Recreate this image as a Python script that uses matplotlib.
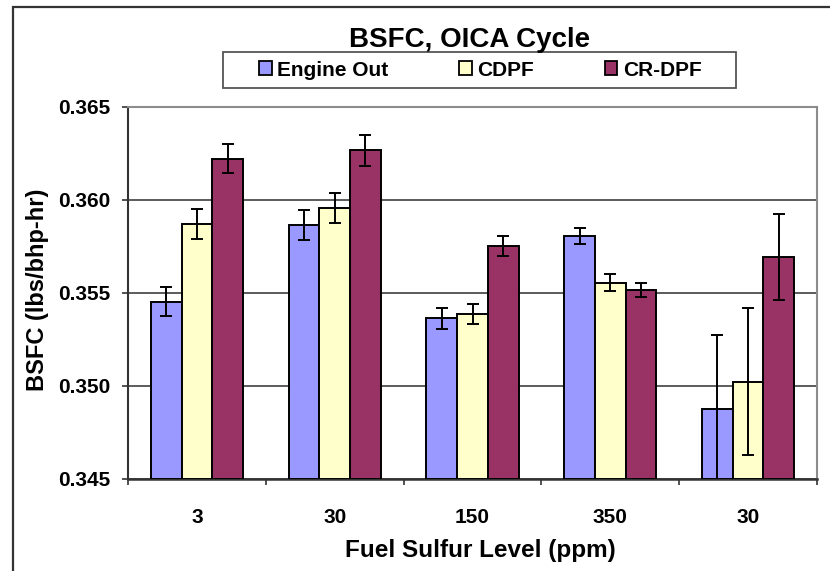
import matplotlib
matplotlib.use("Agg")
import matplotlib.pyplot as plt
from matplotlib.patches import Rectangle, Patch
import numpy as np

plt.rcParams['font.family'] = ['Liberation Sans', 'DejaVu Sans']
plt.rcParams['font.weight'] = 'bold'

categories = ["3", "30", "150", "350", "30"]
series_names = ["Engine Out", "CDPF", "CR-DPF"]
engine_out = [0.35453, 0.35867, 0.35363, 0.35805, 0.34879]
engine_out_err = [0.00078, 0.00080, 0.00054, 0.00043, 0.00397]
cdpf = [0.35869, 0.35958, 0.35385, 0.35556, 0.35022]
cdpf_err = [0.00080, 0.00080, 0.00054, 0.00045, 0.00395]
crdpf = [0.36223, 0.36268, 0.35753, 0.35517, 0.35694]
crdpf_err = [0.00080, 0.00083, 0.00052, 0.00036, 0.00232]
yticks = [0.345, 0.350, 0.355, 0.360, 0.365]

colors = ["#9999FF", "#FFFFCC", "#993366"]

W, H = 830, 571
fig = plt.figure(figsize=(W / 100, H / 100), dpi=100)
ax = fig.add_axes([128 / W, 1 - 479 / H, (817 - 128) / W, (479 - 107) / H])

x = np.arange(len(categories))
bw = 0.2226
data = [(engine_out, engine_out_err), (cdpf, cdpf_err), (crdpf, crdpf_err)]
for i, ((vals, errs), c) in enumerate(zip(data, colors)):
    pos = x + (i - 1) * bw
    ax.bar(pos, np.array(vals) - yticks[0], bottom=yticks[0], width=bw,
           color=c, edgecolor="black", linewidth=1.4, zorder=3)
    ax.errorbar(pos, vals, yerr=errs, fmt="none", ecolor="black",
                elinewidth=1.4, capsize=4.6, capthick=1.4, zorder=4)

ax.set_xlim(-0.5, len(categories) - 0.5)
ax.set_ylim(yticks[0], yticks[-1])
ax.set_yticks(yticks)
ax.set_yticklabels([f"{v:.3f}" for v in yticks])
ax.set_xticks(x)
ax.set_xticklabels(categories)
ax.set_xticks(np.arange(len(categories) + 1) - 0.5, minor=True)
ax.tick_params(axis="x", which="major", length=0, pad=21, labelsize=15)
ax.tick_params(axis="x", which="minor", length=4.3, width=1.2, color="#333333", direction="out")
ax.tick_params(axis="y", which="major", length=4.3, width=1.2, color="#333333",
               direction="out", pad=8.5, labelsize=15)
for lab in ax.get_xticklabels() + ax.get_yticklabels():
    lab.set_fontweight("bold")

ax.yaxis.grid(True, color="#404040", linewidth=1.2, zorder=0)
ax.set_axisbelow(True)
ax.spines["left"].set_color("#333333")
ax.spines["left"].set_linewidth(1.5)
ax.spines["bottom"].set_color("#333333")
ax.spines["bottom"].set_linewidth(1.8)
ax.spines["top"].set_color("#8c8c8c")
ax.spines["top"].set_linewidth(1.5)
ax.spines["right"].set_color("#8c8c8c")
ax.spines["right"].set_linewidth(1.5)

# chart frame
fig.patches.append(Rectangle((13 / W, -0.05), 1.1, 1 - 7 / H + 0.05, transform=fig.transFigure,
                             fill=False, edgecolor="#333333", linewidth=1.6, zorder=0))

fig.text(470 / W, 1 - 40 / H, "BSFC, OICA Cycle", ha="center", va="center",
         fontsize=20, fontweight="bold")

# legend box
fig.patches.append(Rectangle((223 / W, 1 - 88 / H), (736 - 223) / W, (88 - 52) / H,
                             transform=fig.transFigure, facecolor="white",
                             edgecolor="#555555", linewidth=1.3, zorder=2))
handles = [Patch(facecolor=c, edgecolor="black", linewidth=1.3) for c in colors]
leg = fig.legend(handles, series_names, loc="center", bbox_to_anchor=(480 / W, 1 - 70 / H),
                 ncol=3, frameon=False, fontsize=15, handlelength=0.62, handleheight=0.62,
                 handletextpad=0.25, columnspacing=3.4, borderpad=0.2,
                 prop={"weight": "bold", "size": 15})
leg.set_zorder(3)

fig.text(38 / W, 1 - 290 / H, "BSFC (lbs/bhp-hr)", rotation=90, ha="center", va="center",
         fontsize=17, fontweight="bold")
fig.text(480 / W, 1 - 551 / H, "Fuel Sulfur Level (ppm)", ha="center", va="center",
         fontsize=17.5, fontweight="bold")

fig.savefig("out.png", dpi=100, facecolor="white")
